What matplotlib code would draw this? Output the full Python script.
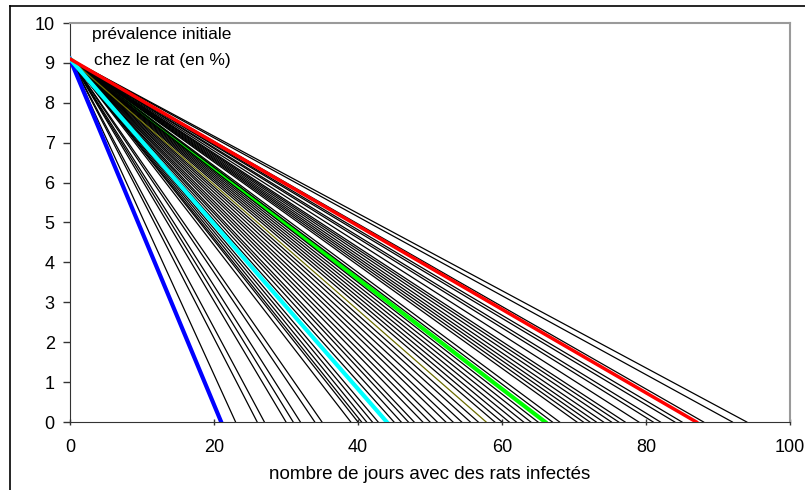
import matplotlib

matplotlib.use("Agg")

import matplotlib.pyplot as plt
from matplotlib.lines import Line2D

plt.rcParams["font.family"] = ["Liberation Sans", "DejaVu Sans"]

# initial prevalence (%) at day 0
start_prevalence = 9.1

# day at which prevalence reaches 0, one per scenario
black_ends = [23, 26, 27, 30, 31, 32, 34, 35, 39, 40, 40.5, 41.2, 42, 42.8,
              45, 46, 47, 47.8, 49, 50, 51, 52.2, 53.2, 54.4, 55.6, 56.7,
              59, 60, 61, 62, 63, 64, 65, 67, 68, 70.4, 71.3, 72.2, 73.1,
              74.1, 75.2, 76.2, 77.1, 79, 81, 82, 84, 85, 88, 92, 94]
olive_end = 57.8
blue_end = 21
cyan_end = 44
green_end = 66
red_end = 87

fig = plt.figure(figsize=(8.05, 4.9), dpi=100)
ax = fig.add_axes([70 / 805, 1 - 422 / 490, 720 / 805, 399 / 490])

# green sits under the black bundle, the other highlighted ones on top
ax.plot([0, green_end], [start_prevalence, 0], color="#00ff00", lw=3, zorder=1)
for end in black_ends:
    ax.plot([0, end], [start_prevalence, 0], color="black", lw=0.9, zorder=2)
ax.plot([0, olive_end], [start_prevalence, 0], color="#6b6b00", lw=0.9, zorder=2)
ax.plot([0, blue_end], [start_prevalence, 0], color="#0000ff", lw=3, zorder=3)
ax.plot([0, cyan_end], [start_prevalence, 0], color="#00ffff", lw=3, zorder=3)
ax.plot([0, red_end], [start_prevalence, 0], color="#ff0000", lw=2.5, zorder=3)

ax.set_xlim(0, 100)
ax.set_ylim(0, 10)
ax.set_xticks(range(0, 101, 20))
ax.set_yticks(range(0, 11))
ax.tick_params(axis="both", labelsize=13, length=5, width=1, color="#333333")
ax.tick_params(axis="x", direction="inout", pad=10)
ax.tick_params(axis="y", pad=6)
for side in ["top", "right"]:
    ax.spines[side].set_color("#9a9a9a")
    ax.spines[side].set_linewidth(1.5)
for side in ["left", "bottom"]:
    ax.spines[side].set_color("#333333")
ax.set_xlabel("nombre de jours avec des rats infectés", fontsize=13.5, labelpad=7)

ax.text(12.8, 9.9, "prévalence initiale\nchez le rat (en %)", ha="center", va="top",
        fontsize=12.5, linespacing=1.9)

# outer chart frame
fig.add_artist(Line2D([10 / 805, 1], [1 - 6 / 490, 1 - 6 / 490], color="black", lw=1.2,
                      transform=fig.transFigure))
fig.add_artist(Line2D([10 / 805, 10 / 805], [0, 1 - 6 / 490], color="black", lw=1.2,
                      transform=fig.transFigure))

fig.savefig("out.png", dpi=100)
plt.close(fig)
